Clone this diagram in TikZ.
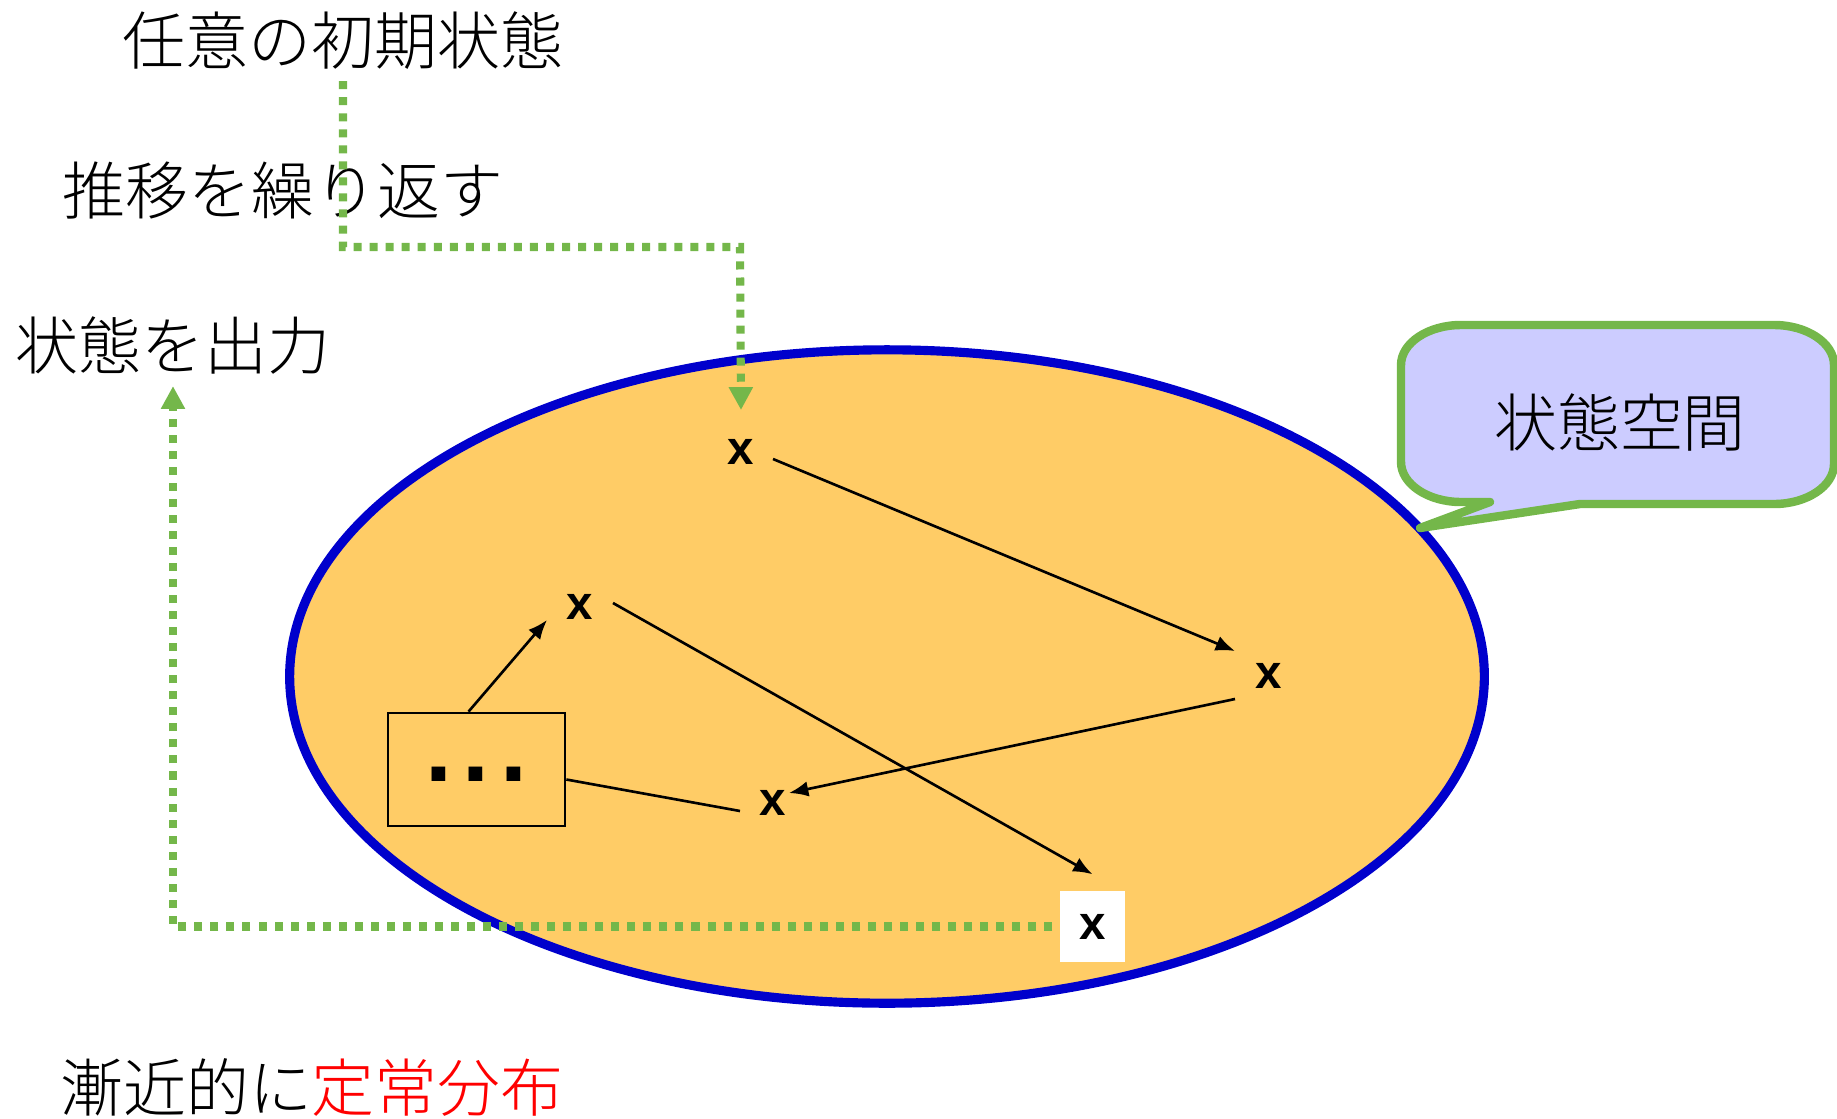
\documentclass[tikz,border=0pt]{standalone}
\usepackage{fontspec}
\newfontfamily\jpfont{Noto Sans CJK JP Light}
\newfontfamily\xfont{Liberation Sans}
\usetikzlibrary{arrows.meta,shapes.geometric,calc}
\definecolor{mygreen}{RGB}{116,183,74}
\definecolor{myorange}{RGB}{255,204,102}
\definecolor{myblue}{RGB}{0,0,204}
\definecolor{mylav}{RGB}{204,204,255}
\tikzset{
  jp/.style={font=\jpfont\fontsize{17.9pt}{20pt}\selectfont, inner sep=3pt},
  xn/.style={font=\xfont\bfseries\fontsize{13.5pt}{15pt}\selectfont, inner sep=0pt},
  flow/.style={draw=black, line width=0.75pt, -{Latex[length=5.5pt,width=4.4pt]}},
  plainline/.style={draw=black, line width=0.75pt},
  gflow/.style={draw=mygreen, line width=2.3pt, dash pattern=on 2.28pt off 2.28pt, -{Triangle[length=6.5pt,width=6.5pt]}},
}
\begin{document}
\begin{tikzpicture}[x=0.01cm,y=-0.01cm]
\useasboundingbox (0,0) rectangle (1837,1118);
% state space ellipse
\node[ellipse, draw=myblue, line width=2.6pt, fill=myorange, minimum width=11.94cm, minimum height=6.53cm, inner sep=0pt] (space) at (887,676.5) {};
% callout
\coordinate (tip) at (1420,528);
\draw[draw=mygreen, line width=2.4pt, line join=round, fill=mylav] (1461,325) -- (1774,325) .. controls (1807,325) and (1834,343) .. (1834,365) -- (1834,464) .. controls (1834,486) and (1807,504) .. (1774,504) -- (1580,504) -- (tip) -- (1490,502) -- (1461,502) .. controls (1428,502) and (1401,484) .. (1401,462) -- (1401,365) .. controls (1401,343) and (1428,325) .. (1461,325) -- cycle;
\node[jp] (spacelabel) at (1620,422) {状態空間};
% texts
\node[jp] (init) at (343,41) {任意の初期状態};
\node[jp] (rep) at (283,191) {推移を繰り返す};
\node[jp] (out) at (173,346) {状態を出力};
\node[jp] (asym) at (312,1087) {漸近的に\textcolor{red}{定常分布}};
% states
\node[xn] (x1) at (741,452) {x};
\node[xn] (x2) at (1269,676) {x};
\node[xn] (x3) at (580,607) {x};
\node[xn] (x4) at (773,803) {x};
\node[xn, fill=white, minimum width=0.65cm, minimum height=0.71cm] (x5) at (1092.5,926.5) {x};
\node[draw=black, line width=0.75pt, minimum width=1.77cm, minimum height=1.13cm, inner sep=0pt] (box) at (476.5,769.5) {};
\node[font=\xfont\bfseries\fontsize{27.5pt}{29pt}\selectfont, inner sep=0pt] (dotstext) at (476,774.5) {.\kern3.0pt.\kern3.0pt.};
% transitions
\draw[flow] ($(x1)+(32,7)$) -- ($(x2)+(-34,-25)$);
\draw[flow] ($(x2)+(-34,23)$) -- ($(x4)+(16,-10)$);
\draw[plainline] ($(x4)+(-33,8)$) -- ($(box.east)+(0,10)$);
\draw[flow] ($(box.north)+(-8,0)$) -- ($(x3)+(-33,13)$);
\draw[flow] ($(x3)+(33,-4)$) -- ($(x5.north)+(0,-16)$);
% green dotted flows
\coordinate (g1) at (740,247);
\draw[gflow] (init.south) |- (g1) -- ($(x1)+(0,-42)$);
\draw[gflow] ($(x5.west)+(-7,0)$) -| (out.south);
\end{tikzpicture}
\end{document}
